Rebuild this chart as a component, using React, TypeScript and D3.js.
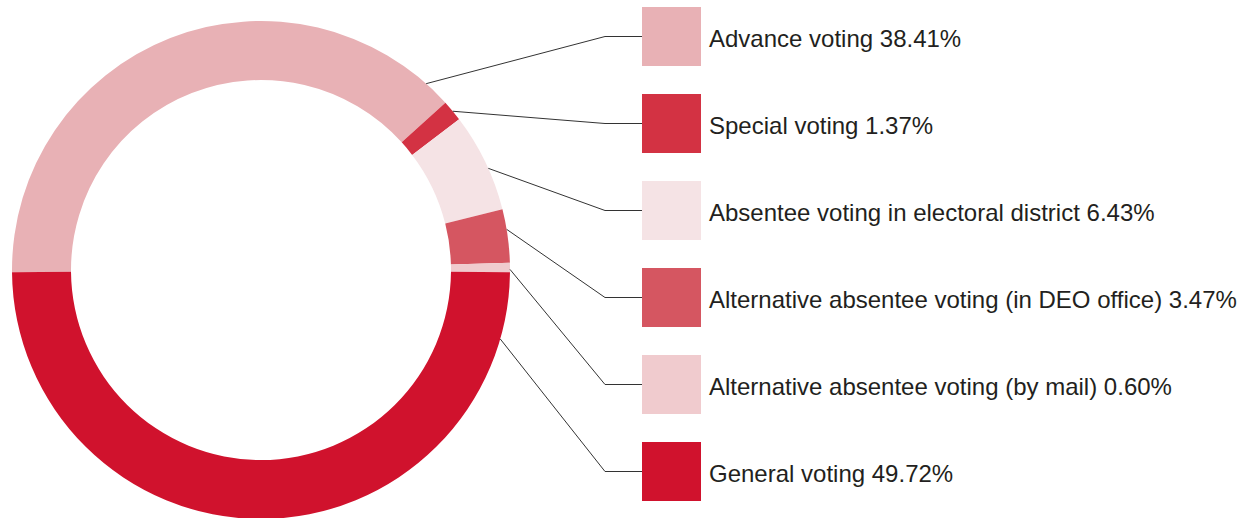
import React from 'react';
import * as d3 from 'd3';

// voting channel shares (%)
const categories = [
  'Advance voting',
  'Special voting',
  'Absentee voting in electoral district',
  'Alternative absentee voting (in DEO office)',
  'Alternative absentee voting (by mail)',
  'General voting',
];
const shares = [38.41, 1.37, 6.43, 3.47, 0.6, 49.72];
const shareLabels = ['38.41%', '1.37%', '6.43%', '3.47%', '0.60%', '49.72%'];
const colors = ['#e8b1b5', '#d33243', '#f5e3e5', '#d55661', '#f0cbce', '#d0122d'];

// where along each slice the leader line leaves the ring (0 = start, 1 = end)
const leaderAnchor = [0.955, 0.53, 0.57, 0.38, 0.7, 0.087];

const W = 1237;
const H = 518;

const App: React.FC = () => {
  const cx = 261;
  const cy = 270;
  const outerR = 249;
  const innerR = 190;
  const startA = (-90.5 * Math.PI) / 180;

  const pie = d3
    .pie<number>()
    .sort(null)
    .value(d => d)
    .startAngle(startA)
    .endAngle(startA + 2 * Math.PI);
  const arcs = pie(shares);

  const arc = d3.arc<d3.PieArcDatum<number>>().innerRadius(innerR).outerRadius(outerR);

  const swatch = 59;
  const swatchX = 642;
  const elbowX = 605;
  const textX = 709;
  const yScale = d3.scalePoint<string>().domain(categories).range([36.5, 471.5]);

  return (
    <svg
      width={W}
      height={H}
      style={{ position: 'absolute', left: 0, top: 0, background: '#fff' }}
      fontFamily="'Liberation Sans', Arial, Helvetica, sans-serif"
    >
      <g transform={`translate(${cx},${cy})`}>
        {arcs.map((a, i) => (
          <path key={i} d={arc(a) || ''} fill={colors[i]} />
        ))}
      </g>

      {arcs.map((a, i) => {
        const ang = a.startAngle + (a.endAngle - a.startAngle) * leaderAnchor[i];
        const x0 = cx + outerR * Math.sin(ang);
        const y0 = cy - outerR * Math.cos(ang);
        const yc = yScale(categories[i]) || 0;
        const line = d3.line()([
          [x0, y0],
          [elbowX, yc],
          [swatchX, yc],
        ]);
        return <path key={i} d={line || ''} fill="none" stroke="#333" strokeWidth={1} />;
      })}

      {categories.map((c, i) => {
        const yc = yScale(c) || 0;
        return (
          <g key={c}>
            <rect x={swatchX} y={yc - swatch / 2} width={swatch} height={swatch} fill={colors[i]} />
            <text x={textX} y={yc + 10} fontSize={24} fill="#231f20">
              {`${c} ${shareLabels[i]}`}
            </text>
          </g>
        );
      })}
    </svg>
  );
};

export default App;
